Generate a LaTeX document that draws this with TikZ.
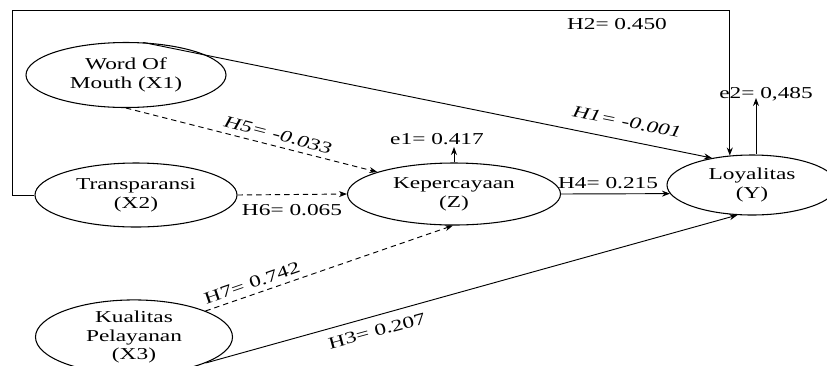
\documentclass[tikz,border=0pt]{standalone}
\usepackage{fontspec}
\setmainfont{Liberation Serif}[FakeStretch=1.4]
\usetikzlibrary{shapes.geometric,arrows.meta}

\begin{document}
\begin{tikzpicture}[x=0.75pt,y=-0.75pt,
  var/.style={draw,ellipse,inner sep=0pt,align=center,line width=0.8pt,
    font=\fontsize{12.5}{14}\selectfont},
  link/.style={line width=0.7pt,-{Stealth[length=6pt,width=4.5pt]}},
  indirect/.style={link,dash pattern=on 4pt off 3pt},
  lbl/.style={font=\fontsize{12.5}{14}\selectfont,inner sep=0pt},
  slbl/.style={lbl,font=\fontsize{12.5}{14}\selectfont\itshape}
]
\useasboundingbox (0,0) rectangle (827,365);

% latent variables
\node[var,minimum width=150pt,minimum height=48.75pt] (X1) at (126,75) {Word Of\\Mouth (X1)};
\node[var,minimum width=151.5pt,minimum height=48pt] (X2) at (136,195) {Transparansi\\(X2)};
\node[var,minimum width=147.75pt,minimum height=48pt] (X3) at (134,337) {Kualitas\\Pelayanan\\(X3)};
\node[var,minimum width=159.75pt,minimum height=46.5pt] (Z) at (454,194) {Kepercayaan\\(Z)};
\node[var,minimum width=127.5pt,minimum height=45pt] (Y) at (752,185) {Loyalitas\\(Y)};

% error terms
\coordinate (e1) at (454,147);
\coordinate (e2) at (756,98);
\draw[link] (Z.north) -- (e1);
\draw[link] (e2 |- Y.north) -- (e2);
\node[lbl] at (437,139) {e1= 0.417};
\node[lbl] at (766,94) {e2= 0,485};

% direct paths
\coordinate (tl) at (12,10);
\draw[link] (X2.west) -| (tl) -| (Y.127);
\node[lbl] at (617,24) {H2=\,\,0.450};
\draw[link] (X1.62) -- (Y.146);
\node[slbl,rotate=-11.3] at (627,122) {H1= -0.001};
\draw[link] (Z.east) -- (Y.186);
\node[lbl] at (608,183) {H4= 0.215};
\draw[link] (X3.-20) -- (Y.-116);
\node[lbl,rotate=15.2] at (377,331) {H3= 0.207};

% paths through Kepercayaan
\draw[indirect] (X1.south) -- (Z.164);
\node[slbl,rotate=-14.5] at (278,135) {H5= -0.033};
\draw[indirect] (X2.east) -- (Z.west);
\node[lbl] at (292,210) {H6= 0.065};
\draw[indirect] (X3.20) -- (Z.-92);
\node[lbl,rotate=19] at (252,283) {H7= 0.742};
\end{tikzpicture}
\end{document}
